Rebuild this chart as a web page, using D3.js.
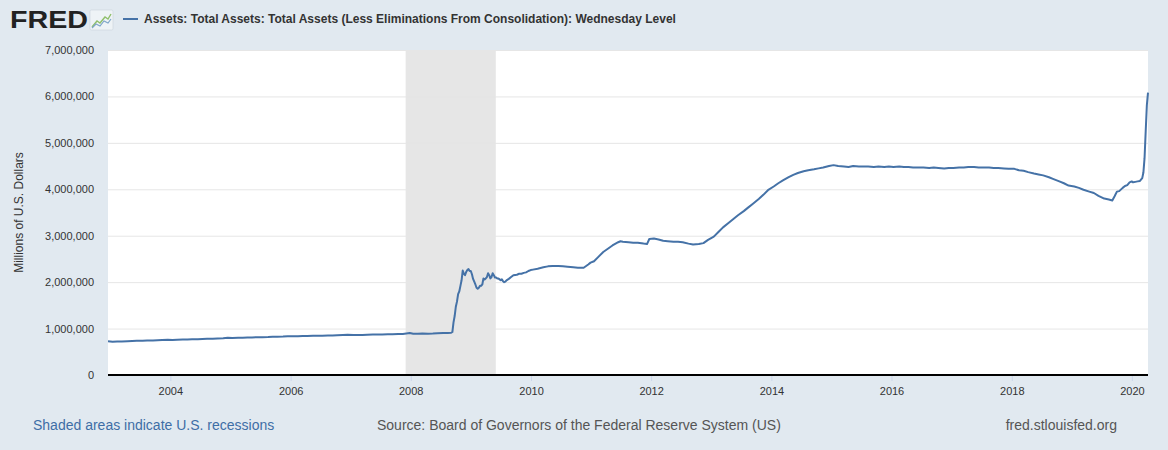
<!DOCTYPE html>
<html><head><meta charset="utf-8">
<script src="https://cdn.jsdelivr.net/npm/d3@7"></script>
<style>
html,body{margin:0;padding:0;background:#e1e9f0;}
svg{display:block;font-family:"Liberation Sans",Arial,Helvetica,sans-serif;}
</style></head>
<body>
<svg id="chart" width="1168" height="450"></svg>
<script>
const seriesTitle = "Assets: Total Assets: Total Assets (Less Eliminations From Consolidation): Wednesday Level";
const yAxisTitle = "Millions of U.S. Dollars";
const footerLeft = "Shaded areas indicate U.S. recessions";
const footerMid = "Source: Board of Governors of the Federal Reserve System (US)";
const footerRight = "fred.stlouisfed.org";

const recessions = [["2007-12-01", "2009-06-01"]];
const yTicks = [0, 1000000, 2000000, 3000000, 4000000, 5000000, 6000000, 7000000];
const xTickYears = [2004, 2006, 2008, 2010, 2012, 2014, 2016, 2018, 2020];

const dates = [
"2002-12-18","2003-01-15","2003-02-12","2003-03-12","2003-04-16","2003-05-14","2003-06-11","2003-07-16","2003-08-13","2003-09-17","2003-10-15","2003-11-12","2003-12-17",
"2004-01-14","2004-02-11","2004-03-17","2004-04-14","2004-05-12","2004-06-16","2004-07-14","2004-08-11","2004-09-15","2004-10-13","2004-11-17","2004-12-15",
"2005-01-12","2005-02-16","2005-03-16","2005-04-13","2005-05-11","2005-06-15","2005-07-13","2005-08-17","2005-09-14","2005-10-12","2005-11-16","2005-12-14",
"2006-01-11","2006-02-15","2006-03-15","2006-04-12","2006-05-17","2006-06-14","2006-07-12","2006-08-16","2006-09-13","2006-10-11","2006-11-15","2006-12-13",
"2007-01-17","2007-02-14","2007-03-14","2007-04-11","2007-05-16","2007-06-13","2007-07-11","2007-08-15","2007-09-12","2007-10-17","2007-11-14","2007-12-26",
"2008-01-16","2008-02-13","2008-03-12","2008-04-16","2008-05-14","2008-06-11","2008-07-16","2008-08-13","2008-09-03","2008-09-10","2008-09-17","2008-09-24",
"2008-10-01","2008-10-08","2008-10-15","2008-10-22","2008-10-29","2008-11-05","2008-11-12","2008-11-19","2008-11-26","2008-12-03","2008-12-10","2008-12-17","2008-12-24","2008-12-31",
"2009-01-07","2009-01-14","2009-01-21","2009-01-28","2009-02-04","2009-02-11","2009-02-18","2009-02-25","2009-03-04","2009-03-11","2009-03-18","2009-03-25",
"2009-04-01","2009-04-08","2009-04-15","2009-04-22","2009-04-29","2009-05-06","2009-05-13","2009-05-20","2009-05-27","2009-06-03","2009-06-10","2009-06-17","2009-06-24",
"2009-07-01","2009-07-08","2009-07-15","2009-07-22","2009-07-29","2009-08-05","2009-08-19","2009-09-02","2009-09-16","2009-10-07","2009-10-21","2009-11-04","2009-11-18","2009-12-02","2009-12-16","2009-12-30",
"2010-01-13","2010-02-10","2010-03-17","2010-04-14","2010-05-12","2010-06-16","2010-07-14","2010-08-11","2010-09-15","2010-10-13","2010-11-17","2010-12-15","2010-12-29",
"2011-01-19","2011-02-16","2011-03-16","2011-04-13","2011-05-11","2011-06-15","2011-06-29","2011-07-13","2011-08-17","2011-09-14","2011-10-12","2011-11-16","2011-12-07","2011-12-21",
"2012-01-18","2012-02-15","2012-03-14","2012-04-11","2012-05-16","2012-06-13","2012-07-11","2012-08-15","2012-09-12","2012-10-17","2012-11-14","2012-12-12",
"2013-01-16","2013-02-13","2013-03-13","2013-04-17","2013-05-15","2013-06-12","2013-07-17","2013-08-14","2013-09-11","2013-10-16","2013-11-13","2013-12-11",
"2014-01-15","2014-02-12","2014-03-12","2014-04-16","2014-05-14","2014-06-11","2014-07-16","2014-08-13","2014-09-17","2014-10-15","2014-11-12","2014-12-17",
"2015-01-14","2015-02-11","2015-03-18","2015-04-15","2015-05-13","2015-06-17","2015-07-15","2015-08-12","2015-09-16","2015-10-14","2015-11-18","2015-12-16",
"2016-01-13","2016-02-17","2016-03-16","2016-04-13","2016-05-11","2016-06-15","2016-07-13","2016-08-17","2016-09-14","2016-10-12","2016-11-16","2016-12-14",
"2017-01-11","2017-02-15","2017-03-15","2017-04-12","2017-05-17","2017-06-14","2017-07-12","2017-08-16","2017-09-13","2017-10-11","2017-11-15","2017-12-13",
"2018-01-17","2018-02-14","2018-03-14","2018-04-11","2018-05-16","2018-06-13","2018-07-11","2018-08-15","2018-09-12","2018-10-17","2018-11-14","2018-12-12",
"2019-01-16","2019-02-13","2019-03-13","2019-04-17","2019-05-15","2019-06-12","2019-07-17","2019-08-14","2019-09-04","2019-09-18","2019-10-02","2019-10-16","2019-11-06","2019-11-20","2019-12-04","2019-12-18","2019-12-31",
"2020-01-08","2020-01-22","2020-02-05","2020-02-19","2020-03-04","2020-03-11","2020-03-18","2020-03-25","2020-04-01","2020-04-08"
];

const values = [
726000,716000,720000,724000,728000,733000,738000,740000,742000,745000,748000,752000,758000,
756000,758000,762000,765000,770000,772000,776000,779000,783000,786000,790000,800000,
798000,800000,803000,806000,810000,812000,815000,817000,822000,824000,828000,836000,
833000,834000,838000,841000,846000,845000,848000,849000,852000,855000,860000,866000,
860000,861000,864000,868000,872000,870000,874000,880000,878000,882000,885000,905000,
890000,888000,895000,890000,892000,897000,903000,905000,910000,926000,1134000,1270000,
1470000,1580000,1740000,1800000,1920000,2040000,2250000,2180000,2150000,2220000,2260000,2280000,2240000,2240000,
2170000,2070000,2010000,1950000,1880000,1860000,1880000,1920000,1920000,1950000,2080000,2060000,
2080000,2110000,2190000,2150000,2080000,2110000,2190000,2150000,2100000,2100000,2080000,2080000,2060000,
2040000,2060000,2020000,2000000,2010000,2040000,2070000,2110000,2150000,2160000,2180000,2180000,2200000,2210000,2240000,2260000,
2270000,2290000,2320000,2340000,2350000,2350000,2340000,2330000,2320000,2310000,2310000,2380000,2420000,
2450000,2550000,2650000,2720000,2790000,2860000,2880000,2870000,2860000,2850000,2850000,2830000,2820000,2930000,
2940000,2920000,2890000,2880000,2870000,2870000,2860000,2830000,2810000,2820000,2840000,2910000,
2980000,3080000,3180000,3280000,3360000,3440000,3530000,3610000,3690000,3790000,3880000,3980000,
4060000,4130000,4190000,4260000,4310000,4350000,4390000,4410000,4430000,4450000,4470000,4500000,
4520000,4500000,4490000,4480000,4500000,4490000,4490000,4490000,4480000,4490000,4480000,4490000,
4480000,4490000,4480000,4480000,4470000,4470000,4470000,4460000,4470000,4460000,4450000,4460000,
4460000,4470000,4470000,4480000,4480000,4470000,4470000,4470000,4460000,4460000,4450000,4440000,
4440000,4410000,4400000,4370000,4340000,4320000,4300000,4260000,4220000,4170000,4130000,4080000,
4060000,4030000,3990000,3950000,3920000,3860000,3800000,3780000,3760000,3850000,3950000,3960000,4030000,4070000,4090000,4150000,4170000,
4150000,4160000,4170000,4180000,4240000,4360000,4670000,5250000,5810000,6080000
];

const parse = d3.timeParse("%Y-%m-%d");
const data = dates.map((d, i) => ({ date: parse(d), value: values[i] }));

const svg = d3.select("#chart");
const plot = { left: 108, right: 1148, top: 50, bottom: 375 };

const x = d3.scaleTime()
  .domain([parse(dates[0]), parse(dates[dates.length - 1])])
  .range([plot.left, plot.right]);
const y = d3.scaleLinear().domain([0, 7000000]).range([plot.bottom, plot.top]);

svg.append("rect")
  .attr("x", plot.left).attr("y", plot.top)
  .attr("width", plot.right - plot.left).attr("height", plot.bottom - plot.top)
  .attr("fill", "#ffffff");

svg.selectAll("rect.rec").data(recessions).enter().append("rect")
  .attr("class", "rec")
  .attr("x", d => x(parse(d[0])))
  .attr("y", plot.top)
  .attr("width", d => x(parse(d[1])) - x(parse(d[0])))
  .attr("height", plot.bottom - plot.top)
  .attr("fill", "#e6e6e6");

svg.append("g")
  .attr("transform", `translate(${plot.left},0)`)
  .call(d3.axisLeft(y).tickValues(yTicks).tickSize(-(plot.right - plot.left)).tickFormat(""))
  .call(g => g.select(".domain").remove())
  .call(g => g.selectAll(".tick line").attr("stroke", "#e6e6e6").attr("stroke-width", 1));

svg.append("g")
  .attr("transform", `translate(${plot.left},0)`)
  .call(d3.axisLeft(y).tickValues(yTicks).tickSize(0).tickPadding(14).tickFormat(d3.format(",")))
  .call(g => g.select(".domain").remove())
  .call(g => g.selectAll("text").attr("fill", "#333333").style("font-size", "11px")
    .style("font-family", "'Liberation Sans',Arial,sans-serif"));

const xTicks = xTickYears.map(yr => new Date(yr, 0, 1));
svg.append("g")
  .attr("transform", `translate(0,${plot.bottom})`)
  .call(d3.axisBottom(x).tickValues(xTicks).tickSize(6).tickPadding(6).tickFormat(d3.timeFormat("%Y")))
  .call(g => g.select(".domain").remove())
  .call(g => g.selectAll(".tick line").attr("stroke", "#ccd6eb"))
  .call(g => g.selectAll("text").attr("fill", "#333333").style("font-size", "11px")
    .style("font-family", "'Liberation Sans',Arial,sans-serif"));

svg.append("line")
  .attr("x1", plot.left).attr("x2", plot.right)
  .attr("y1", plot.bottom).attr("y2", plot.bottom)
  .attr("stroke", "#000000").attr("stroke-width", 2);

const line = d3.line().x(d => x(d.date)).y(d => y(d.value));
svg.append("path")
  .datum(data)
  .attr("d", line)
  .attr("fill", "none")
  .attr("stroke", "#4572a7")
  .attr("stroke-width", 2)
  .attr("stroke-linejoin", "round");

svg.append("text")
  .attr("transform", `translate(23,${(plot.top + plot.bottom) / 2}) rotate(-90)`)
  .attr("text-anchor", "middle")
  .attr("fill", "#333333")
  .style("font-size", "12px")
  .text(yAxisTitle);

svg.append("text")
  .attr("x", 10).attr("y", 28)
  .attr("fill", "#222222")
  .attr("textLength", 78).attr("lengthAdjust", "spacingAndGlyphs")
  .style("font-size", "24px").style("font-weight", "900")
  .style("font-family", "'Liberation Sans',Arial,sans-serif")
  .text("FRED");
const icon = svg.append("g").attr("transform", "translate(90,10)");
icon.append("rect").attr("width", 23).attr("height", 20).attr("rx", 1.5)
  .attr("fill", "#eef3f6").attr("stroke", "#c9d4dc").attr("stroke-width", 0.6);
icon.append("path").attr("d", "M2,17 L7,11 L10,13 L15,7 L18,9 L21,4")
  .attr("fill", "none").attr("stroke", "#8fbf6a").attr("stroke-width", 1.4);
icon.append("path").attr("d", "M2,18 L6,14 L10,16 L14,11 L18,13 L21,9")
  .attr("fill", "none").attr("stroke", "#7fa6c9").attr("stroke-width", 1.2);

svg.append("line").attr("x1", 123).attr("x2", 138).attr("y1", 19).attr("y2", 19)
  .attr("stroke", "#4572a7").attr("stroke-width", 2);
svg.append("text")
  .attr("x", 144).attr("y", 23)
  .attr("fill", "#333333")
  .style("font-size", "12px").style("font-weight", "bold")
  .text(seriesTitle);

svg.append("text").attr("x", 33).attr("y", 430)
  .attr("fill", "#3e6ea6").style("font-size", "14px").text(footerLeft);
svg.append("text").attr("x", 377).attr("y", 430)
  .attr("fill", "#555555").style("font-size", "14px").text(footerMid);
svg.append("text").attr("x", 1117).attr("y", 430).attr("text-anchor", "end")
  .attr("fill", "#555555").style("font-size", "14px").text(footerRight);
</script>
</body></html>
